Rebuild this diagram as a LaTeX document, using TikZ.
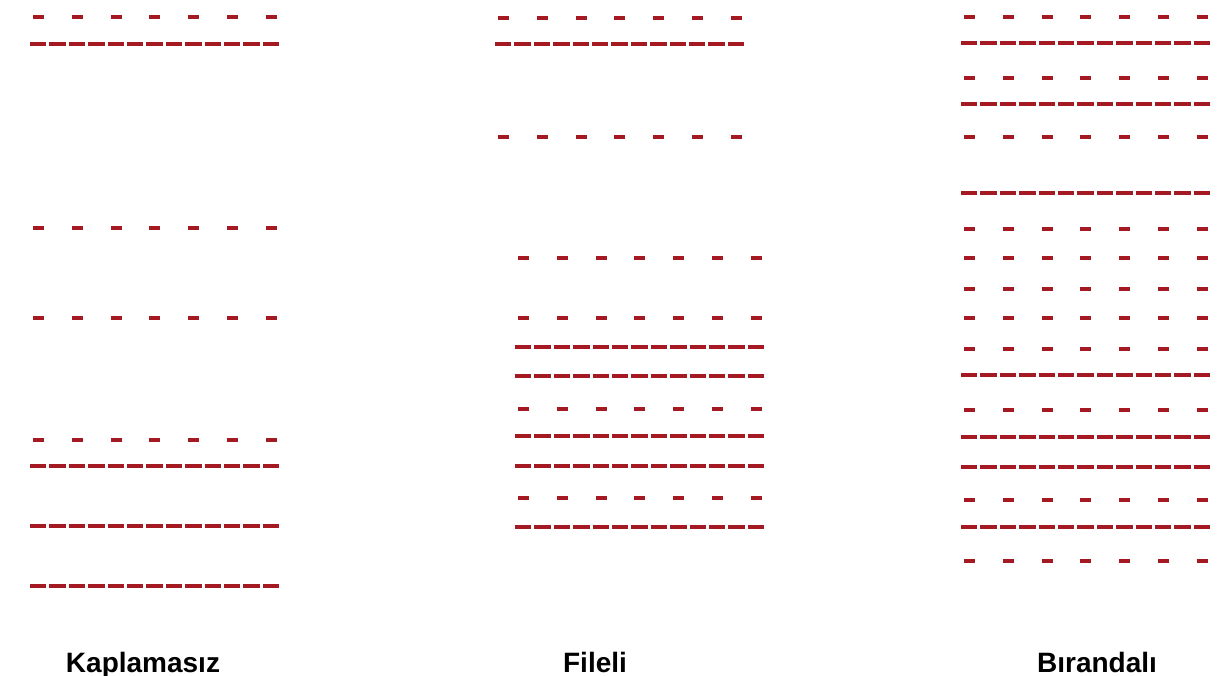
\documentclass[tikz,border=0pt]{standalone}
\usepackage{fontspec}
\setmainfont{Liberation Sans}
\definecolor{dashred}{RGB}{165,25,35}
\begin{document}
\begin{tikzpicture}[x=1pt,y=-1pt,
  sparse/.style={draw=dashred,line width=4pt,line cap=butt,dash pattern=on 11pt off 27.8pt},
  dense/.style={draw=dashred,line width=4pt,line cap=butt,dash pattern=on 16.4pt off 3pt},
  label/.style={font=\bfseries\fontsize{28}{34}\selectfont,anchor=base,inner sep=0pt}]
\useasboundingbox[fill=white] (0,0) rectangle (1226,676);
\newcommand\sprow[2]{\draw[sparse] (#1+3,#2) -- (#1+247,#2);}
\newcommand\dnrow[2]{\draw[dense] (#1,#2) -- (#1+249,#2);}
% Kaplamasiz
\sprow{30}{17}\dnrow{30}{44}
\sprow{30}{228}\sprow{30}{318}
\sprow{30}{440}\dnrow{30}{466}\dnrow{30}{526}\dnrow{30}{586}
% Fileli
\sprow{495}{18}\dnrow{495}{44}\sprow{495}{137}
\sprow{515}{258}\sprow{515}{318}\dnrow{515}{347}\dnrow{515}{376}
\sprow{515}{409}\dnrow{515}{436}\dnrow{515}{466}\sprow{515}{498}\dnrow{515}{527}
% Birandali
\sprow{961}{17}\dnrow{961}{43}\sprow{961}{78}\dnrow{961}{104}\sprow{961}{137}
\dnrow{961}{193}\sprow{961}{229}\sprow{961}{258}\sprow{961}{289}\sprow{961}{318}
\sprow{961}{349}\dnrow{961}{375}\sprow{961}{410}\dnrow{961}{437}\dnrow{961}{467}
\sprow{961}{500}\dnrow{961}{527}\sprow{961}{561}
% labels
\node[label] (l1) at (143,672) {Kaplamasız};
\node[label] (l2) at (595,672) {Fileli};
\node[label] (l3) at (1097,672) {Bırandalı};
\end{tikzpicture}
\end{document}
